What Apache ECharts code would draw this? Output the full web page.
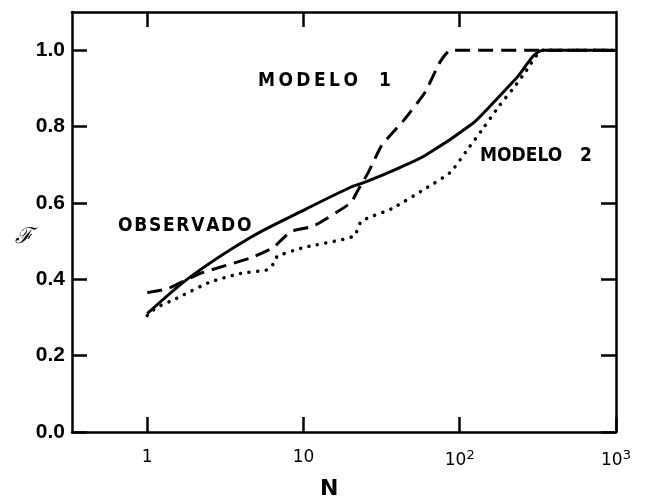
<!DOCTYPE html>
<html>
<head>
<meta charset="utf-8">
<script src="https://cdn.jsdelivr.net/npm/echarts@6/dist/echarts.min.js"></script>
<style>
  html, body { margin: 0; padding: 0; background: #fff; }
  #chart { width: 662px; height: 502px; }
</style>
</head>
<body>
<div id="chart"></div>
<script>
// Fraction F versus N (log scale): observed curve and two models.
const observadoN = [1, 1.87, 4.6, 9.6, 20, 25, 40, 60, 121, 152, 231, 344, 1000];
const observadoF = [0.31, 0.405, 0.51, 0.577, 0.641, 0.655, 0.69, 0.724, 0.808, 0.848, 0.927, 1.0, 1.0];

const modelo1N = [1, 1.35, 2.17, 4.6, 6.4, 8.3, 11.7, 20, 22.5, 26, 31.6, 44.6, 60, 75, 87, 1000];
const modelo1F = [0.365, 0.375, 0.415, 0.456, 0.483, 0.525, 0.54, 0.60, 0.636, 0.68, 0.75, 0.82, 0.89, 0.97, 1.0, 1.0];

const modelo2N = [1, 1.14, 1.54, 2.5, 3.94, 5.9, 6.4, 6.8, 10, 21, 23.5, 36.7, 60, 87, 110, 141, 181, 220, 255, 344, 1000];
const modelo2F = [0.305, 0.325, 0.35, 0.392, 0.415, 0.425, 0.44, 0.46, 0.483, 0.513, 0.552, 0.585, 0.637, 0.68, 0.735, 0.795, 0.857, 0.90, 0.935, 1.0, 1.0];

const xTicks = [1, 10, 100, 1000];
const yTicks = [0, 0.2, 0.4, 0.6, 0.8, 1.0];

function pairs(xs, ys) { return xs.map((x, i) => [x, ys[i]]); }

const chart = echarts.init(document.getElementById('chart'), null, { renderer: 'canvas' });

const axisLineStyle = { color: '#000', width: 2.5 };
function ticks(values) {
  return { show: true, inside: true, length: 15, customValues: values, lineStyle: { color: '#000', width: 2.5 } };
}

function xLabel(v) {
  const r = Math.round(Math.log10(v));
  if (r === 0) return '1';
  if (r === 1) return '10';
  return '10{sup|' + r + '}';
}

const LABEL_FONT = 'bold 19px "DejaVu Sans Condensed", "Liberation Sans"';
function spread(s, gap) { return s.split('').join(gap); }

const option = {
  backgroundColor: '#fff',
  animation: false,
  grid: { left: 72, right: 46, top: 12, bottom: 70 },
  xAxis: [
    {
      type: 'log', min: 0.33, max: 1000, position: 'bottom',
      axisLine: { show: true, onZero: false, lineStyle: axisLineStyle },
      axisTick: ticks(xTicks),
      minorTick: { show: false },
      splitLine: { show: false },
      axisLabel: {
        margin: 17, color: '#000', fontSize: 17, fontFamily: 'DejaVu Sans',
        customValues: xTicks,
        formatter: xLabel,
        rich: { sup: { fontSize: 13, verticalAlign: 'top', padding: [0, 0, 10, 0], fontFamily: 'DejaVu Sans', color: '#000' } }
      }
    },
    {
      type: 'log', min: 0.33, max: 1000, position: 'top',
      axisLine: { show: true, onZero: false, lineStyle: axisLineStyle },
      axisTick: ticks(xTicks.slice(0, 3)),
      splitLine: { show: false },
      axisLabel: { show: false }
    }
  ],
  yAxis: [
    {
      type: 'value', min: 0, max: 1.1, position: 'left',
      axisLine: { show: true, onZero: false, lineStyle: axisLineStyle },
      axisTick: ticks(yTicks),
      splitLine: { show: false },
      axisLabel: {
        margin: 7, color: '#000', fontSize: 21, fontWeight: 'bold', fontFamily: 'Liberation Sans',
        customValues: yTicks,
        formatter: v => v.toFixed(1)
      }
    },
    {
      type: 'value', min: 0, max: 1.1, position: 'right',
      axisLine: { show: true, onZero: false, lineStyle: axisLineStyle },
      axisTick: ticks(yTicks),
      splitLine: { show: false },
      axisLabel: { show: false }
    }
  ],
  series: [
    {
      name: 'OBSERVADO', type: 'line', data: pairs(observadoN, observadoF),
      smooth: 0.3, showSymbol: false,
      lineStyle: { color: '#000', width: 3 }
    },
    {
      name: 'MODELO 1', type: 'line', data: pairs(modelo1N, modelo1F),
      smooth: 0.15, showSymbol: false,
      lineStyle: { color: '#000', width: 3, type: [15, 8] }
    },
    {
      name: 'MODELO 2', type: 'line', data: pairs(modelo2N, modelo2F),
      smooth: 0.2, showSymbol: false,
      lineStyle: { color: '#000', width: 3.5, type: [0.1, 8.5], cap: 'round' }
    }
  ],
  graphic: [
    { type: 'text', left: 118, top: 217, style: { text: spread('OBSERVADO', '\u200A'), font: LABEL_FONT, fill: '#000' } },
    { type: 'text', left: 258, top: 72, style: { text: spread('MODELO', '\u2009'), font: LABEL_FONT, fill: '#000' } },
    { type: 'text', left: 379, top: 72, style: { text: '1', font: LABEL_FONT, fill: '#000' } },
    { type: 'text', left: 480, top: 147, style: { text: 'MODELO', font: LABEL_FONT, fill: '#000' } },
    { type: 'text', left: 580, top: 147, style: { text: '2', font: LABEL_FONT, fill: '#000' } },
    { type: 'text', left: 320, top: 478, style: { text: 'N', font: 'bold 22px "DejaVu Sans"', fill: '#000' } },
    { type: 'text', left: 15, top: 226, style: { text: 'ℱ', font: 'italic 22px "DejaVu Serif"', fill: '#000' } }
  ]
};

chart.setOption(option);
</script>
</body>
</html>
